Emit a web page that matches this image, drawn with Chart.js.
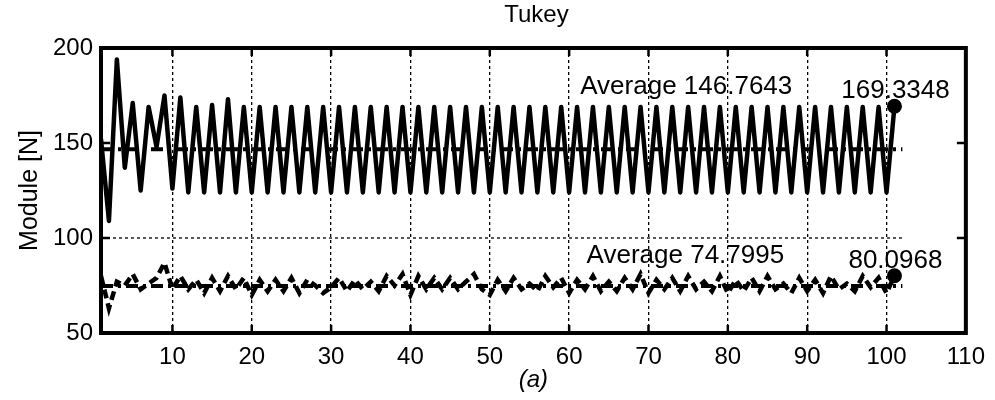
<!DOCTYPE html>
<html>
<head>
<meta charset="utf-8">
<title>Tukey</title>
<script src="https://cdn.jsdelivr.net/npm/chart.js@4/dist/chart.umd.min.js"></script>
<style>
  html, body { margin: 0; padding: 0; background: #fff; }
  #wrap { width: 995px; height: 400px; }
</style>
</head>
<body>
<div id="wrap"><canvas id="c" width="995" height="400"></canvas></div>
<script>
// Module of the force per step, Tukey weighting
const moduleUpper = [
  152, 109, 194, 137, 171, 125, 169, 148, 175, 126,
  174, 124, 169, 124, 170, 124, 173, 124, 169, 124,
  169, 124, 169, 124, 169, 124, 169, 124, 169, 124,
  169, 124, 169, 124, 169, 124, 169, 124, 169, 124,
  169, 124, 169, 124, 169, 124, 169, 124, 169, 124,
  169, 124, 169, 124, 169, 124, 169, 124, 169, 124,
  169, 124, 169, 124, 169, 124, 169, 124, 169, 124,
  169, 124, 169, 124, 169, 124, 169, 124, 169, 124,
  169, 124, 169, 124, 169, 124, 169, 124, 169, 124,
  169, 124, 169, 124, 169, 124, 169, 124, 169, 124,
  169.3348
];
const moduleLower = [
  80, 63, 77, 75, 81, 73, 76, 79, 87, 73,
  80, 73, 78, 71, 79, 72, 80, 73, 79, 70,
  78, 72, 78, 72, 79, 71, 78, 75, 71, 74,
  79, 72, 78, 73, 77, 72, 80, 75, 81, 70,
  80, 73, 79, 73, 79, 73, 77, 81, 73, 70,
  78, 72, 79, 73, 76, 72, 80, 74, 79, 71,
  78, 73, 80, 72, 77, 72, 79, 73, 81, 71,
  78, 73, 79, 72, 80, 73, 77, 72, 80, 71,
  78, 72, 79, 72, 80, 73, 76, 71, 79, 72,
  78, 71, 80, 73, 76, 72, 80, 74, 79, 71,
  80.0968
];
const averageUpper = 146.7643;
const averageLower = 74.7995;
const averageSpan = [1, 102];
const lastStep = 101;
const refLevel = 100;
const xTicks = [10, 20, 30, 40, 50, 60, 70, 80, 90, 100, 110];
const yTicks = [50, 100, 150, 200];
const chartTitle = 'Tukey';

const toPoints = arr => arr.map((v, i) => ({ x: i + 1, y: v }));
const flat = v => averageSpan.map(x => ({ x, y: v }));

const FONT = "'Liberation Sans', Arial, Helvetica, sans-serif";
Chart.defaults.font.family = FONT;
Chart.defaults.font.size = 24;
Chart.defaults.color = '#000';

// text notes anchored in data coordinates (left edge, vertical middle)
const notes = [
  { text: 'Average ' + averageUpper.toFixed(4), x: 61.4, y: 179.5 },
  { text: moduleUpper[moduleUpper.length - 1].toFixed(4), x: 94.3, y: 177.2 },
  { text: 'Average ' + averageLower.toFixed(4), x: 62.2, y: 90.8 },
  { text: moduleLower[moduleLower.length - 1].toFixed(4), x: 95.2, y: 88.0 }
];

const frame = {
  id: 'frame',
  afterDatasetsDraw(chart) {
    const { ctx, chartArea: a, scales: { x, y } } = chart;
    ctx.save();
    ctx.strokeStyle = '#000';
    ctx.lineWidth = 2.5;
    const seg = (x1, y1, x2, y2) => { ctx.beginPath(); ctx.moveTo(x1, y1); ctx.lineTo(x2, y2); ctx.stroke(); };
    x.ticks.forEach(t => {
      const px = x.getPixelForValue(t.value);
      if (px <= a.left + 2 || px >= a.right - 2) return;
      seg(px, a.bottom, px, a.bottom - 8);
      seg(px, a.top, px, a.top + 8);
    });
    y.ticks.forEach(t => {
      const py = y.getPixelForValue(t.value);
      if (py <= a.top + 2 || py >= a.bottom - 2) return;
      seg(a.left, py, a.left + 9, py);
      seg(a.right, py, a.right - 9, py);
    });
    ctx.lineWidth = 4;
    ctx.strokeRect(a.left, a.top, a.right - a.left, a.bottom - a.top);

    ctx.fillStyle = '#000';
    ctx.font = '26px ' + FONT;
    ctx.textAlign = 'left';
    ctx.textBaseline = 'middle';
    notes.forEach(n => ctx.fillText(n.text, x.getPixelForValue(n.x), y.getPixelForValue(n.y)));

    // title centred over the plotting area
    ctx.font = '24px ' + FONT;
    ctx.textAlign = 'center';
    ctx.fillText(chartTitle, (a.left + a.right) / 2 + 3, 15);
    ctx.restore();
  }
};

const lineBase = { pointRadius: 0, fill: false, tension: 0 };

new Chart(document.getElementById('c'), {
  type: 'line',
  data: {
    datasets: [
      { ...lineBase, label: 'ref', data: averageSpan.map(x => ({ x, y: refLevel })),
        borderColor: '#000', borderWidth: 1.3, borderDash: [3, 3] },
      { ...lineBase, label: 'avgUpper', data: flat(averageUpper),
        borderColor: '#000', borderWidth: 4, borderDash: [12, 5, 3, 5] },
      { ...lineBase, label: 'avgLower', data: flat(averageLower),
        borderColor: '#000', borderWidth: 4, borderDash: [12, 5, 3, 5] },
      { ...lineBase, label: 'upper', data: toPoints(moduleUpper),
        borderColor: '#000', borderWidth: 4.5, borderJoinStyle: 'round', borderCapStyle: 'round' },
      { ...lineBase, label: 'lower', data: toPoints(moduleLower),
        borderColor: '#000', borderWidth: 4.5, borderDash: [9, 5] },
      { label: 'lastUpper', data: [{ x: lastStep, y: moduleUpper[moduleUpper.length - 1] }],
        showLine: false, pointRadius: 7.5, pointBackgroundColor: '#000', pointBorderColor: '#000', pointBorderWidth: 0 },
      { label: 'lastLower', data: [{ x: lastStep, y: moduleLower[moduleLower.length - 1] }],
        showLine: false, pointRadius: 7.5, pointBackgroundColor: '#000', pointBorderColor: '#000', pointBorderWidth: 0 }
    ]
  },
  options: {
    responsive: false,
    animation: false,
    devicePixelRatio: 1,
    events: [],
    layout: { padding: { left: 0, right: 26, top: 48, bottom: 0 } },
    plugins: {
      legend: { display: false },
      tooltip: { enabled: false },
      title: { display: false }
    },
    scales: {
      x: {
        type: 'linear', min: 1, max: 110,
        afterBuildTicks: sc => { sc.ticks = xTicks.map(v => ({ value: v })); },
        afterFit: sc => { sc.height = 67; },
        ticks: { padding: 10, color: '#000', font: { size: 24 }, maxRotation: 0, autoSkip: false },
        grid: { color: '#000', lineWidth: 1.3, drawTicks: false, borderDash: [3, 3] },
        border: { display: false, dash: [3, 3] },
        title: { display: true, text: '(a)', color: '#000',
          font: { size: 24, style: 'italic', family: FONT }, padding: { top: 0, bottom: 5 } }
      },
      y: {
        type: 'linear', min: 50, max: 200,
        afterBuildTicks: sc => { sc.ticks = yTicks.map(v => ({ value: v })); },
        afterFit: sc => { sc.width = 101; },
        ticks: { padding: 8, color: '#000', font: { size: 24 } },
        grid: { display: false, drawTicks: false },
        border: { display: false },
        title: { display: true, text: 'Module [N]', color: '#000',
          font: { size: 25, family: FONT }, padding: { top: 15, bottom: 0 } }
      }
    }
  },
  plugins: [frame]
});
</script>
</body>
</html>
